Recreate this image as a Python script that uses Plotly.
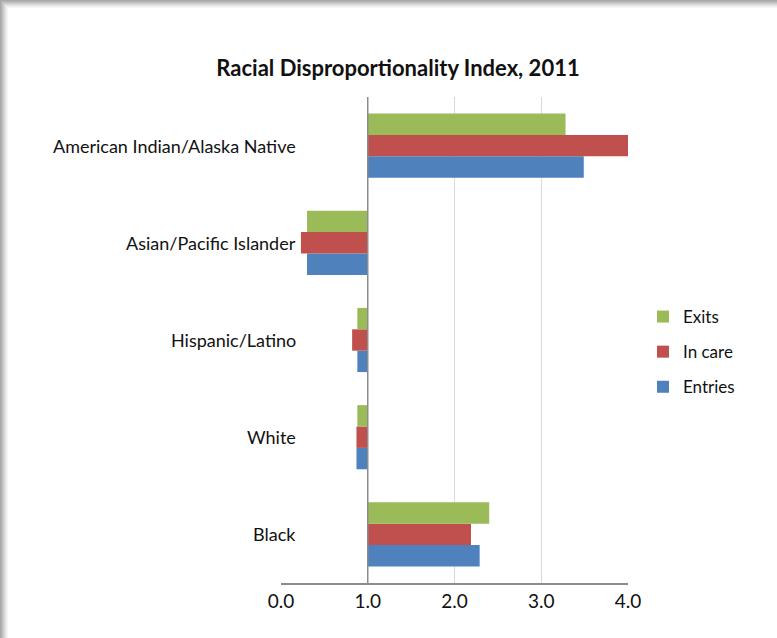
import plotly.graph_objects as go

categories = ["American Indian/Alaska Native", "Asian/Pacific Islander", "Hispanic/Latino", "White", "Black"]
exits = [3.28, 0.30, 0.88, 0.88, 2.40]
in_care = [4.02, 0.23, 0.82, 0.87, 2.19]
entries = [3.49, 0.30, 0.88, 0.87, 2.29]
x_ticks = [0, 1, 2, 3, 4]
x_tick_labels = ["0.0", "1.0", "2.0", "3.0", "4.0"]
baseline = 1.0

W, H = 777, 638
L, R, T, B = 281, 149, 97, 55
pw, ph = W - L - R, H - T - B

def px(x):
    return (x - L) / pw

def py(y):
    return (H - B - y) / ph

FONT = "Lato"
TXT = "#111111"
fig = go.Figure()
series = [("Entries", entries, "#4f81bd", 3), ("In care", in_care, "#c0504d", 2), ("Exits", exits, "#9bbb59", 1)]
for name, vals, col, rank in series:
    fig.add_trace(go.Bar(
        y=categories, x=[v - baseline for v in vals], base=baseline,
        orientation="h", name=name, marker=dict(color=col, line=dict(width=0)),
        legendgroup=name, legendrank=rank,
    ))

shapes = []
grays = ["#a8a8a8", "#b4b4b4", "#c0c0c0", "#cccccc", "#d8d8d8", "#e4e4e4", "#eeeeee", "#f6f6f6"]
for i, g in enumerate(grays):
    shapes.append(dict(type="rect", xref="paper", yref="paper",
                       x0=px(i), x1=px(i + 1), y0=py(H), y1=py(0), fillcolor=g, line=dict(width=0), layer="below"))
for i, g in enumerate(grays):
    shapes.append(dict(type="rect", xref="paper", yref="paper",
                       x0=px(i), x1=px(W), y0=py(i + 1), y1=py(i), fillcolor=g, line=dict(width=0), layer="below"))
shapes.append(dict(type="line", xref="x", yref="paper", x0=baseline, x1=baseline, y0=0, y1=1,
                   line=dict(color="#8c8c8c", width=1.5)))

annotations = []
for c in categories:
    annotations.append(dict(x=px(298), xref="paper", y=c, yref="y", text=c, showarrow=False,
                            xanchor="right", yanchor="middle", font=dict(family=FONT, size=18, color=TXT)))

fig.update_layout(
    width=W, height=H,
    margin=dict(l=L, r=R, t=T, b=B),
    paper_bgcolor="white", plot_bgcolor="white",
    barmode="group", bargap=0.34, bargroupgap=0,
    title=dict(text="<b>Racial Disproportionality Index, 2011</b>", x=398 / W, xanchor="center",
               y=1 - 68 / H, yanchor="middle", xref="container", yref="container",
               font=dict(family=FONT, size=22, color=TXT)),
    xaxis=dict(range=[0, 4], tickvals=x_ticks, ticktext=x_tick_labels, showgrid=True,
               gridcolor="#d9d9d9", gridwidth=1, zeroline=False, showline=True, linecolor="#8c8c8c",
               linewidth=2, ticks="", tickfont=dict(family=FONT, size=19, color=TXT), fixedrange=True),
    yaxis=dict(categoryorder="array", categoryarray=categories[::-1], showticklabels=False,
               showgrid=False, zeroline=False, showline=False, ticks=""),
    legend=dict(x=px(643), xanchor="left", y=py(299), yanchor="top", traceorder="grouped",
                tracegroupgap=10, itemwidth=30, font=dict(family=FONT, size=17, color=TXT),
                bgcolor="rgba(0,0,0,0)"),
    shapes=shapes, annotations=annotations,
    showlegend=True,
)

fig.write_html("out.html")
